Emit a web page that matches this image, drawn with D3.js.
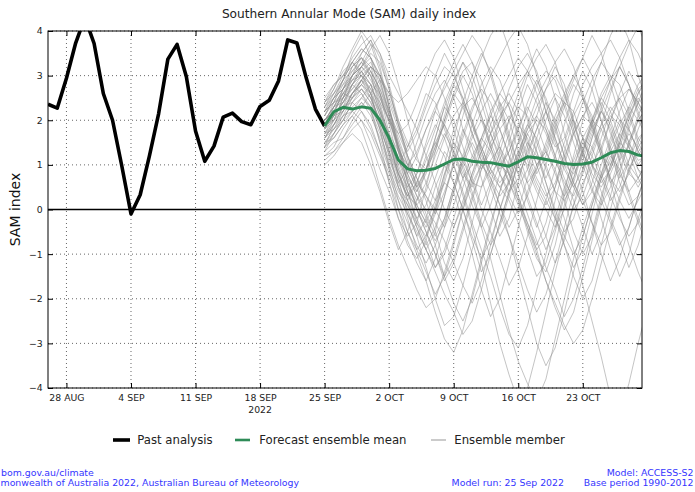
<!DOCTYPE html>
<html><head><meta charset="utf-8">
<script src="https://cdn.jsdelivr.net/npm/d3@7"></script>
<style>
body{margin:0;background:#fff;overflow:hidden}
svg{display:block;font-family:"DejaVu Sans",sans-serif}
</style>
</head><body>
<svg id="chart" width="695" height="492"></svg>
<script>
// ---------------- DATA ----------------
const pastStart = "2022-08-26";
const pastValues = [2.36, 2.27, 2.94, 3.73, 4.3, 3.72, 2.6, 2.0, 0.98, -0.1, 0.33, 1.2, 2.15, 3.37, 3.7,
  2.98, 1.76, 1.08, 1.42, 2.07, 2.16, 1.97, 1.9, 2.31, 2.45, 2.88, 3.8, 3.73, 2.95, 2.25, 1.87];

const forecastStart = "2022-09-25";
const meanValues = [1.87, 2.19, 2.29, 2.25, 2.3, 2.27, 2.0, 1.6, 1.11, 0.91, 0.87, 0.88, 0.92, 1.02, 1.12,
  1.13, 1.08, 1.06, 1.05, 1.01, 0.97, 1.07, 1.18, 1.16, 1.12, 1.08, 1.03, 1.01, 1.02, 1.06, 1.16, 1.27,
  1.32, 1.3, 1.22, 1.18];

const m01 = [1.9,2.2,2.6,2.9,3.1,2.8,2.2,1.5,0.8,0.3,0.1,0.4,1.0,1.6,2.1,2.4,2.0,1.4,0.9,0.6,0.9,1.5,2.2,2.8,3.1,2.9,2.3,1.7,1.2,1.0,1.4,2.0,2.5,2.7,2.4,2.0];
const m02 = [1.7,1.9,2.3,2.5,2.7,2.4,1.8,1.0,0.2,-0.5,-0.9,-0.6,0.1,0.8,1.2,1.0,0.4,-0.3,-0.8,-0.4,0.3,1.1,1.7,2.0,1.8,1.2,0.5,0.0,0.3,0.9,1.6,2.2,2.5,2.1,1.5,1.1];
const m03 = [2.1,2.5,2.9,3.3,3.6,3.4,3.0,2.6,2.4,2.6,2.9,3.2,3.0,2.5,1.8,1.1,0.6,0.5,0.9,1.5,2.0,2.3,2.1,1.5,0.9,0.4,0.2,0.6,1.3,2.0,2.6,3.0,2.8,2.2,1.6,1.3];
const m04 = [1.5,1.6,1.9,2.2,2.0,1.5,0.9,0.4,-0.2,-0.6,-0.3,0.5,1.3,2.0,2.6,3.1,3.3,2.9,2.2,1.4,0.8,0.5,0.9,1.6,2.2,2.6,2.4,1.8,1.0,0.4,0.1,0.5,1.2,1.9,2.4,2.6];
const m05 = [2.3,2.6,2.8,3.0,3.2,3.5,3.3,2.7,1.9,1.2,0.7,0.2,-0.5,-1.2,-1.6,-1.1,-0.3,0.5,1.1,1.4,1.0,0.3,-0.4,-0.9,-0.6,0.2,1.0,1.7,2.1,1.9,1.3,0.7,0.4,0.8,1.5,1.9];
const m06 = [1.2,1.4,1.8,2.1,2.4,2.2,1.7,1.1,0.6,0.9,1.5,2.1,2.6,2.9,2.5,1.8,1.2,0.9,1.3,2.0,2.7,3.2,3.5,3.1,2.4,1.6,1.0,0.8,1.2,1.8,2.2,1.9,1.3,0.8,0.6,0.9];
const m07 = [2.0,2.3,2.4,2.8,3.0,2.6,1.9,1.2,0.5,0.0,-0.6,-1.3,-2.0,-2.6,-2.4,-1.7,-0.9,-0.2,0.5,1.0,0.8,0.2,-0.5,-1.1,-1.4,-0.8,0.1,0.9,1.6,2.0,1.8,1.3,0.6,0.1,0.3,0.9];
const m08 = [1.8,2.1,2.7,3.2,3.4,3.1,2.5,2.0,1.7,1.9,2.4,3.0,3.5,3.8,3.4,2.7,2.0,1.3,0.7,0.3,0.6,1.2,1.9,2.5,2.9,3.3,3.6,3.2,2.5,1.8,1.2,1.0,1.4,2.0,2.6,2.9];
const m09 = [1.6,1.8,2.0,2.4,2.6,2.3,1.5,0.6,-0.2,-0.8,-1.1,-0.7,0.0,0.6,0.4,-0.3,-1.0,-1.8,-2.4,-2.0,-1.2,-0.4,0.4,1.0,1.3,0.9,0.2,-0.5,-1.0,-0.6,0.2,1.0,1.5,1.3,0.7,0.3];
const m10 = [2.4,2.7,3.1,3.3,3.0,2.7,2.4,2.0,1.4,0.8,1.2,1.8,2.2,1.9,1.3,0.8,0.5,1.0,1.7,2.3,2.6,2.2,1.5,1.0,1.3,1.9,2.5,3.0,3.4,3.0,2.3,1.7,1.1,1.4,2.0,2.3];
const m11 = [1.9,2.0,2.2,2.6,2.9,3.2,3.0,2.3,1.4,0.6,0.1,-0.3,0.2,1.0,1.8,2.3,2.5,2.1,1.5,1.0,1.3,1.9,1.6,1.0,0.4,-0.2,-0.8,-1.3,-0.9,-0.1,0.7,1.4,1.9,2.3,2.0,1.6];
const m12 = [1.4,1.7,2.1,2.3,2.5,2.8,2.6,1.9,1.1,0.5,0.8,1.4,1.9,1.6,1.0,0.3,-0.4,-1.2,-2.1,-3.0,-3.7,-4.3,-4.0,-3.2,-2.3,-1.4,-0.6,0.1,0.6,1.0,0.7,0.2,0.5,1.1,1.6,1.8];
const m13 = [2.2,2.4,2.5,2.7,2.9,2.5,2.0,1.6,1.1,0.7,0.4,0.8,1.4,2.1,2.8,3.3,3.0,2.4,1.7,1.1,0.6,0.2,-0.3,-0.9,-1.6,-2.2,-2.7,-2.3,-1.5,-0.7,0.1,0.8,1.3,1.7,1.4,1.0];
const m14 = [1.7,2.0,2.5,3.0,3.3,3.7,3.5,3.0,2.6,2.2,1.8,1.2,0.6,0.0,-0.4,0.1,0.8,1.5,2.1,2.6,3.0,3.4,3.1,2.6,1.9,1.4,1.6,2.2,2.8,3.2,3.5,3.8,3.4,2.8,2.3,2.0];
const m15 = [2.0,2.2,2.3,2.4,2.2,1.8,1.3,0.8,0.3,-0.1,-0.5,-0.9,-1.4,-1.9,-2.3,-2.8,-2.5,-1.8,-1.0,-0.3,0.4,1.0,1.5,1.2,0.6,0.0,-0.5,-0.2,0.5,1.2,1.8,2.1,1.9,1.4,0.9,0.7];
const m16 = [1.3,1.5,1.6,2.0,2.3,2.6,2.9,2.6,2.0,1.5,1.1,0.9,1.3,2.0,2.6,2.3,1.7,1.2,0.8,1.1,1.7,2.4,3.0,3.4,3.7,3.3,2.6,1.9,1.3,0.8,0.5,0.9,1.5,2.2,2.7,2.9];
const m17 = [2.5,2.8,3.0,3.2,3.4,3.0,2.3,1.5,0.8,0.2,-0.2,0.1,0.7,1.3,1.0,0.4,-0.3,-0.9,-1.5,-2.2,-2.8,-3.1,-2.6,-1.8,-1.0,-0.2,0.5,1.1,1.6,1.4,0.8,0.3,-0.2,-0.6,-0.3,0.2];
const m18 = [1.8,2.1,2.2,2.5,2.8,2.6,2.2,1.7,1.3,1.0,1.3,1.8,2.3,2.7,3.1,3.5,3.9,3.6,3.0,2.3,1.6,1.0,0.6,0.9,1.4,2.0,2.4,2.2,1.6,1.0,0.6,0.9,1.5,2.1,2.6,3.0];
const m19 = [1.1,1.3,1.5,1.8,2.0,1.7,1.2,0.7,0.2,-0.3,-0.8,-1.2,-0.8,-0.2,0.5,1.1,1.6,2.0,1.7,1.2,0.6,0.1,-0.4,-1.0,-1.6,-2.1,-2.6,-3.0,-2.7,-2.0,-1.2,-0.4,0.3,0.9,1.3,1.5];
const m20 = [2.2,2.5,2.9,3.1,3.3,3.0,2.6,2.1,1.5,1.0,0.6,0.3,0.0,-0.4,0.1,0.7,1.2,1.6,1.3,0.8,0.4,0.7,1.3,1.8,2.2,1.8,1.2,0.6,0.2,-0.3,-0.8,-0.5,0.2,0.9,1.4,1.7];
const m21 = [1.9,2.3,2.7,2.9,3.0,3.2,3.0,2.4,1.8,1.3,1.7,2.3,2.8,3.2,3.0,2.5,1.9,1.4,0.9,0.5,0.8,1.3,1.0,0.5,0.1,0.5,1.1,1.8,2.4,2.9,3.3,3.0,2.4,1.8,1.3,1.0];
const m22 = [1.6,1.9,2.1,2.2,2.4,2.1,1.6,1.0,0.5,0.2,0.6,1.1,1.5,1.2,0.6,0.0,-0.6,-1.1,-0.7,0.0,0.6,1.2,1.8,2.3,2.7,3.0,2.6,2.0,1.3,0.7,0.2,-0.3,-0.8,-0.4,0.3,0.8];
const m23 = [2.0,2.2,2.6,2.8,3.1,3.3,2.8,2.2,1.7,1.2,0.7,0.3,-0.1,0.4,1.0,1.6,2.2,2.8,3.2,2.9,2.3,1.6,0.9,0.4,0.0,-0.4,0.0,0.7,1.4,2.0,2.5,2.9,3.2,2.8,2.1,1.7];
const m24 = [1.5,1.7,2.0,2.2,2.5,2.3,1.8,1.3,0.8,0.4,0.0,-0.5,-1.0,-1.5,-1.1,-0.4,0.3,0.9,1.4,1.8,2.1,1.8,1.2,0.7,0.3,0.6,1.2,1.7,2.1,2.4,2.0,1.4,0.8,0.4,0.7,1.1];
const m25 = [2.3,2.5,2.7,3.0,3.2,2.9,2.5,2.0,1.4,0.9,0.5,0.9,1.6,2.3,2.8,2.5,1.9,1.3,0.8,0.5,0.2,-0.3,-0.9,-1.5,-1.2,-0.5,0.3,1.0,1.5,1.2,0.7,1.1,1.7,2.3,2.8,3.1];
const m26 = [1.7,1.8,2.2,2.6,2.8,3.1,2.7,2.1,1.4,0.8,0.3,0.0,-0.3,-0.7,-1.2,-1.7,-2.1,-1.6,-0.8,0.0,0.7,1.3,1.8,2.1,1.7,1.1,0.6,0.3,0.8,1.4,1.9,2.3,2.0,1.5,1.1,1.2];
const m27 = [1.9,2.1,2.4,2.7,3.0,2.8,2.3,1.6,1.0,1.4,2.0,2.6,2.4,1.8,1.2,0.7,1.0,1.6,2.2,2.6,2.3,1.7,1.1,0.6,0.2,-0.2,-0.6,-1.0,-0.6,0.1,0.8,1.5,2.0,1.8,1.3,1.0];
const m28 = [2.1,2.4,2.6,2.5,2.7,2.4,2.0,1.5,1.0,0.4,-0.2,-0.7,-1.3,-1.0,-0.4,0.2,0.8,1.3,1.7,2.1,2.4,2.8,3.1,2.8,2.2,1.6,1.0,0.5,0.1,0.4,1.0,1.6,2.2,2.7,2.4,2.0];
const m29 = [1.8,2.0,2.3,2.6,2.9,2.7,2.1,1.3,0.7,0.3,0.6,1.2,1.8,2.4,2.9,3.3,2.8,2.1,1.4,0.8,0.3,-0.1,0.3,0.9,1.5,2.1,2.6,3.0,2.6,2.0,1.3,0.7,0.2,-0.2,0.2,0.6];
const m30 = [2.0,2.3,2.5,2.8,2.6,2.2,1.5,0.9,0.4,0.1,-0.3,-0.8,-0.4,0.3,1.0,1.7,2.3,2.7,2.4,1.8,1.2,0.8,1.2,1.8,2.4,2.0,1.4,0.9,1.3,1.9,2.5,2.2,1.6,1.0,0.7,1.1];
const m31 = [1.4,1.6,1.9,2.1,1.8,1.2,0.5,-0.2,-0.8,-1.3,-1.8,-2.2,-2.0,-1.4,-0.7,0.0,0.6,1.0,0.7,0.1,-0.6,-1.4,-2.2,-3.0,-3.5,-3.1,-2.3,-1.4,-0.6,0.1,0.7,1.2,0.9,0.3,-0.3,-0.8];
const m32 = [1.2,1.3,1.6,1.9,2.2,1.9,1.3,0.6,0.0,-0.5,-1.0,-1.6,-2.3,-2.9,-3.2,-2.7,-1.9,-1.1,-0.3,0.4,1.0,1.5,1.9,1.6,1.0,0.4,-0.2,-0.9,-1.7,-2.5,-3.3,-4.2,-4.6,-3.9,-3.0,-2.2];
const m33 = [2.4,2.6,3.0,3.4,3.7,3.9,3.5,2.8,2.0,1.2,0.5,-0.1,-0.6,-0.2,0.5,1.2,1.9,2.5,3.0,3.4,3.8,4.1,3.7,3.0,2.2,1.5,0.9,0.5,0.9,1.6,2.3,2.9,3.4,3.8,3.5,3.0];
const m34 = [1.0,1.2,1.5,1.7,1.5,1.0,0.4,-0.3,-0.9,-0.5,0.2,0.9,1.5,1.9,1.5,0.9,0.3,-0.4,-1.1,-1.9,-2.7,-3.4,-3.9,-4.3,-3.8,-2.9,-2.0,-1.1,-0.4,0.2,0.8,1.3,1.7,1.4,0.9,0.5];
const m35 = [1.9,2.4,2.9,3.5,3.9,3.4,2.6,1.7,0.9,0.2,-0.4,-0.9,-0.5,0.3,1.1,1.8,1.4,0.7,0.0,-0.6,-0.2,0.6,1.4,2.1,2.7,3.2,2.8,2.0,1.2,0.5,-0.2,-0.9,-1.5,-1.0,-0.2,0.4];
const m36 = [1.6,2.0,2.5,3.0,3.5,3.8,3.2,2.3,1.3,0.4,-0.3,-0.6,-0.1,0.7,1.6,2.4,3.0,3.5,3.1,2.4,1.7,1.0,0.3,-0.3,-0.9,-0.4,0.4,1.2,2.0,2.7,3.3,3.9,4.3,3.8,3.0,2.4];
const m37 = [2.2,2.6,2.9,3.3,3.1,2.6,1.8,0.9,0.0,-0.7,-1.2,-1.6,-1.1,-0.4,0.4,1.1,1.7,2.2,2.6,2.2,1.5,0.8,0.2,-0.4,0.2,0.9,1.5,2.1,2.5,2.1,1.4,0.6,-0.1,-0.8,-1.4,-1.9];
const m38 = [1.4,1.9,2.3,2.8,3.2,3.6,3.9,3.5,2.8,2.0,1.2,0.6,0.2,0.6,1.3,2.1,2.8,3.4,3.9,4.2,3.6,2.8,2.0,1.3,0.7,1.2,1.9,2.6,3.1,2.7,2.0,1.3,0.7,1.1,1.8,2.3];
const m39 = [2.0,2.2,2.5,2.9,3.2,3.0,2.4,1.6,0.7,-0.1,-0.6,-0.2,0.5,1.0,0.6,0.0,-0.7,-1.4,-1.0,-0.3,0.4,1.1,1.7,1.3,0.6,-0.1,-0.8,-1.5,-2.0,-1.6,-0.8,0.0,0.8,1.5,2.0,2.3];
const m40 = [1.8,2.3,2.6,3.0,3.3,3.1,2.7,2.2,1.6,1.0,0.4,0.9,1.6,2.3,2.0,1.4,0.7,0.1,0.6,1.3,2.0,2.6,3.1,3.6,3.2,2.5,1.7,1.0,0.4,-0.3,-1.0,-1.6,-1.1,-0.4,0.3,0.9];
const m41 = [2.3,2.7,3.2,3.6,4.0,3.7,3.1,2.3,1.5,0.7,0.0,-0.5,-1.0,-1.6,-1.2,-0.5,0.2,0.9,1.5,2.0,2.4,2.0,1.4,0.8,1.2,1.8,2.4,2.9,3.4,3.9,3.5,2.8,2.1,1.5,1.0,1.3];
const m42 = [1.5,1.8,2.1,2.5,2.9,3.2,2.9,2.2,1.4,0.6,0.0,-0.4,0.0,0.8,1.5,1.2,0.6,0.0,-0.5,-1.1,-1.7,-1.3,-0.6,0.2,1.0,1.7,2.3,2.8,2.5,1.9,1.2,0.6,0.9,1.5,2.1,2.6];
const m43 = [2.1,2.5,2.7,3.1,3.4,3.2,2.6,2.0,1.3,0.8,0.3,-0.2,-0.8,-1.5,-2.1,-2.5,-2.0,-1.2,-0.4,0.4,1.1,1.8,2.4,2.9,2.5,1.9,1.2,0.6,0.1,0.6,1.3,2.0,2.6,3.1,2.7,2.1];
const m44 = [1.7,2.1,2.4,2.6,2.9,2.6,2.1,1.4,0.8,0.3,0.8,1.5,2.2,2.8,3.3,3.7,3.3,2.6,1.9,1.3,0.8,0.3,-0.3,-0.8,-0.3,0.5,1.3,2.0,1.6,1.0,0.4,-0.2,-0.7,-1.3,-0.8,-0.1];
const m45 = [2.4,2.8,3.0,3.3,3.6,3.4,2.9,2.1,1.3,0.6,0.2,0.6,1.2,1.7,1.3,0.7,0.1,-0.4,0.1,0.8,1.5,2.2,2.8,2.4,1.8,1.2,0.7,0.2,-0.4,-1.0,-0.5,0.3,1.1,1.8,2.4,2.9];
const m46 = [1.3,1.7,2.0,2.4,2.7,2.5,2.0,1.3,0.5,-0.2,-0.9,-1.4,-1.9,-1.5,-0.8,0.0,0.7,1.3,1.9,2.4,2.0,1.3,0.6,0.0,-0.6,-1.2,-0.7,0.1,0.9,1.6,2.2,2.7,3.2,2.8,2.2,1.6];
const m47 = [2.0,2.3,2.7,3.0,3.2,3.4,3.0,2.5,1.9,1.4,1.8,2.4,3.0,3.5,3.1,2.4,1.7,1.1,0.6,0.1,-0.4,0.0,0.7,1.4,2.0,2.5,2.1,1.5,0.9,1.3,1.9,2.6,3.2,3.7,4.1,3.6];
const m48 = [1.9,2.1,2.4,2.8,3.1,2.8,2.2,1.5,0.9,0.5,0.1,-0.3,-0.7,-0.3,0.4,1.0,1.5,1.1,0.5,-0.1,-0.6,-1.2,-1.8,-2.3,-1.9,-1.2,-0.4,0.4,1.1,1.7,2.2,1.8,1.1,0.4,-0.2,-0.7];
const m49 = [2.2,2.4,2.8,3.2,3.5,3.8,3.4,2.7,1.9,1.1,0.5,0.9,1.4,1.9,2.5,3.0,2.6,2.0,1.4,0.9,1.3,1.8,2.3,1.9,1.3,0.8,0.3,0.7,1.3,1.9,2.4,2.0,1.4,0.9,0.5,0.9];
const m50 = [1.6,1.9,2.2,2.6,2.8,2.5,1.9,1.2,0.6,0.1,-0.4,-0.9,-1.3,-0.9,-0.2,0.5,1.1,1.6,2.1,1.8,1.2,0.5,-0.1,-0.7,-1.3,-1.8,-2.4,-2.0,-1.3,-0.5,0.3,1.0,1.6,2.1,2.5,2.2];
const ensembleMembers = [m01,m02,m03,m04,m05,m06,m07,m08,m09,m10,m11,m12,m13,m14,m15,m16,m17,
  m18,m19,m20,m21,m22,m23,m24,m25,m26,m27,m28,m29,m30,m31,m32,m33,m34,m35,m36,m37,m38,m39,m40,
  m41,m42,m43,m44,m45,m46,m47,m48,m49,m50];

const xTickDates = ["2022-08-28","2022-09-04","2022-09-11","2022-09-18","2022-09-25",
  "2022-10-02","2022-10-09","2022-10-16","2022-10-23"];
const xTickLabels = ["28 AUG","4 SEP","11 SEP","18 SEP","25 SEP","2 OCT","9 OCT","16 OCT","23 OCT"];
const yTicks = [-4,-3,-2,-1,0,1,2,3,4];
const yTickLabels = ["\u22124","\u22123","\u22122","\u22121","0","1","2","3","4"];

const titleText = "Southern Annular Mode (SAM) daily index";
const yLabelText = "SAM index";
const yearText = "2022";
const legendLabels = ["Past analysis","Forecast ensemble mean","Ensemble member"];
const footerLeft = ["bom.gov.au/climate","monwealth of Australia 2022, Australian Bureau of Meteorology"];
const footerRight = ["Model: ACCESS-S2","Base period 1990-2012"];
const footerMid = "Model run: 25 Sep 2022";

// ---------------- LAYOUT ----------------
const L = 48, R = 642, T = 31, B = 388;
const DAY = 86400000;
const parse = s => new Date(s + "T00:00:00Z");
const domainStart = parse("2022-08-26");
const domainEnd = new Date(parse("2022-10-29").getTime() + 0.42 * DAY);

const x = d3.scaleUtc().domain([domainStart, domainEnd]).range([L, R]);
const y = d3.scaleLinear().domain([-4, 4]).range([B, T]);

const svg = d3.select("#chart");
svg.append("rect").attr("width", 695).attr("height", 492).attr("fill", "#fff");

svg.append("defs").append("clipPath").attr("id", "plotclip")
  .append("rect").attr("x", L).attr("y", T).attr("width", R - L).attr("height", B - T);

const seq = (start, vals) => vals.map((v, i) => ({ d: new Date(parse(start).getTime() + i * DAY), v }));

// grid
const grid = svg.append("g").attr("stroke", "#000").attr("stroke-width", 0.8)
  .attr("stroke-dasharray", "1,3").attr("opacity", 0.75);
xTickDates.forEach(s => {
  const px = x(parse(s));
  grid.append("line").attr("x1", px).attr("x2", px).attr("y1", T).attr("y2", B);
});
yTicks.forEach(v => {
  if (v === 0) return;
  grid.append("line").attr("x1", L).attr("x2", R).attr("y1", y(v)).attr("y2", y(v));
});

const line = d3.line().x(p => x(p.d)).y(p => y(p.v));
const plot = svg.append("g").attr("clip-path", "url(#plotclip)");

// ensemble
plot.append("g").selectAll("path").data(ensembleMembers).join("path")
  .attr("d", m => line(seq(forecastStart, m)))
  .attr("fill", "none").attr("stroke", "#8a8a8a").attr("stroke-opacity", 0.5)
  .attr("stroke-width", 1).attr("stroke-linejoin", "round");

// zero line
plot.append("line").attr("x1", L).attr("x2", R).attr("y1", y(0)).attr("y2", y(0))
  .attr("stroke", "#000").attr("stroke-width", 1.4);

// past analysis
plot.append("path").attr("d", line(seq(pastStart, pastValues)))
  .attr("fill", "none").attr("stroke", "#000").attr("stroke-width", 3.6)
  .attr("stroke-linejoin", "round");

// mean
plot.append("path").attr("d", line(seq(forecastStart, meanValues)))
  .attr("fill", "none").attr("stroke", "#2e8b57").attr("stroke-width", 3)
  .attr("stroke-linejoin", "round");

// axes
const fmtX = (d, i) => xTickLabels[i];
const gx = svg.append("g").attr("transform", `translate(0,${B})`)
  .call(d3.axisBottom(x).tickValues(xTickDates.map(parse)).tickFormat(fmtX)
    .tickSizeInner(-5).tickSizeOuter(0).tickPadding(6.6));
const gxt = svg.append("g").attr("transform", `translate(0,${T})`)
  .call(d3.axisTop(x).tickValues(xTickDates.map(parse)).tickFormat("")
    .tickSizeInner(-5).tickSizeOuter(0));
const gy = svg.append("g").attr("transform", `translate(${L},0)`)
  .call(d3.axisLeft(y).tickValues(yTicks).tickFormat((d, i) => yTickLabels[i])
    .tickSizeInner(-5).tickSizeOuter(0).tickPadding(5.4));
const gyr = svg.append("g").attr("transform", `translate(${R},0)`)
  .call(d3.axisRight(y).tickValues(yTicks).tickFormat("")
    .tickSizeInner(-5).tickSizeOuter(0));
[gx, gxt, gy, gyr].forEach(g => {
  g.select(".domain").remove();
  g.selectAll(".tick line").attr("stroke", "#000").attr("stroke-width", 1);
  g.selectAll("text").attr("fill", "#222").style("font-family", "DejaVu Sans")
    .style("font-size", "9.3px");
});

// frame
svg.append("rect").attr("x", L).attr("y", T).attr("width", R - L).attr("height", B - T)
  .attr("fill", "none").attr("stroke", "#000").attr("stroke-width", 1);

// year label
svg.append("text").attr("x", x(parse("2022-09-18"))).attr("y", 413)
  .attr("text-anchor", "middle").attr("fill", "#222").style("font-size", "9.3px").text(yearText);

// title
svg.append("text").attr("x", 349).attr("y", 18).attr("text-anchor", "middle")
  .attr("fill", "#222").style("font-size", "12.2px").text(titleText);

// y label
svg.append("text").attr("transform", `translate(20,${(T + B) / 2}) rotate(-90)`)
  .attr("text-anchor", "middle").attr("fill", "#111").style("font-size", "14px").text(yLabelText);

// legend
const legend = svg.append("g").style("font-size", "11.7px").attr("fill", "#222");
const legendItems = [
  { x1: 113, x2: 130, tx: 137.3, stroke: "#000", w: 3.6, op: 1 },
  { x1: 235, x2: 250, tx: 259.3, stroke: "#2e8b57", w: 2.6, op: 1 },
  { x1: 431, x2: 446, tx: 454.3, stroke: "#8c8c8c", w: 1, op: 0.9 }
];
legendItems.forEach((it, i) => {
  legend.append("line").attr("x1", it.x1).attr("x2", it.x2).attr("y1", 440).attr("y2", 440)
    .attr("stroke", it.stroke).attr("stroke-width", it.w).attr("stroke-opacity", it.op);
  legend.append("text").attr("x", it.tx).attr("y", 443.8).text(legendLabels[i]);
});

// footer
const footer = svg.append("g").style("font-size", "9.4px").attr("fill", "#3535ff");
footer.append("text").attr("x", 1).attr("y", 476.3).text(footerLeft[0]);
footer.append("text").attr("x", 0.5).attr("y", 486.3).text(footerLeft[1]);
footer.append("text").attr("x", 693.5).attr("y", 476.3).attr("text-anchor", "end").text(footerRight[0]);
footer.append("text").attr("x", 693.5).attr("y", 486.3).attr("text-anchor", "end").text(footerRight[1]);
footer.append("text").attr("x", 564).attr("y", 486.3).attr("text-anchor", "end").text(footerMid);
</script>
</body></html>
